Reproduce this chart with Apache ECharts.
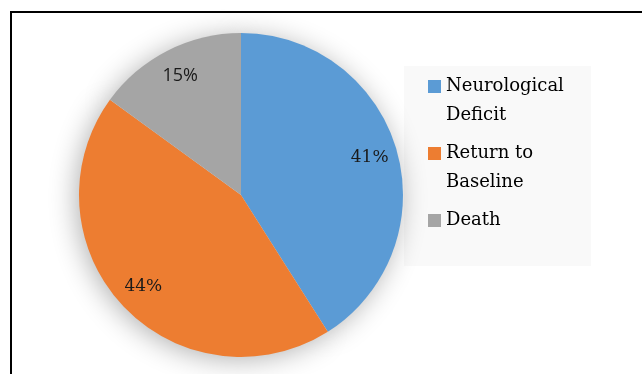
<!DOCTYPE html>
<html>
<head>
<meta charset="utf-8">
<script src="https://cdn.jsdelivr.net/npm/echarts@6/dist/echarts.min.js"></script>
<style>
    html, body { margin: 0; padding: 0; background: #fff; }
    #chart { width: 642px; height: 374px; }
</style>
</head>
<body>
<div id="chart"></div>
<script>
var categories = ['Neurological\nDeficit', 'Return to\nBaseline', 'Death'];
var percents = [41, 44, 15];
var colors = ['#5B9BD5', '#ED7D31', '#A5A5A5'];

var serif = '"DejaVu Serif", "Liberation Serif", serif';

var chart = echarts.init(document.getElementById('chart'));

var pieData = [];
for (var i = 0; i < categories.length; i++) {
    pieData.push({
        name: categories[i],
        value: percents[i],
        itemStyle: { color: colors[i] },
        // 15% label is in a sans font in the original
        label: i === 2 ? { fontFamily: '"Open Sans", "DejaVu Sans", sans-serif', fontSize: 18 } : {}
    });
}

var option = {
    backgroundColor: '#ffffff',
    animation: false,
    legend: {
        orient: 'vertical',
        left: 428,
        top: 43,
        padding: 0,
        itemWidth: 13,
        itemHeight: 13,
        itemGap: -20,
        icon: 'rect',
        data: categories,
        // blank line above (and below for one-liners) so the icon lines up with the first line
        formatter: function (name) {
            return name.indexOf('\n') < 0 ? ' \n' + name + '\n ' : ' \n' + name;
        },
        textStyle: {
            fontFamily: serif,
            fontSize: 18,
            lineHeight: 29,
            color: '#000'
        }
    },
    graphic: [
        { type: 'rect', z: 0, shape: { x: 404, y: 66, width: 187, height: 200 }, style: { fill: '#f9f9f9' } },
        { type: 'line', shape: { x1: 10, y1: 12, x2: 642, y2: 12 }, style: { stroke: '#000', lineWidth: 2 } },
        { type: 'line', shape: { x1: 11, y1: 11, x2: 11, y2: 374 }, style: { stroke: '#000', lineWidth: 2 } }
    ],
    series: [
        {
            // the visible slices
            name: 'outcome',
            type: 'pie',
            z: 3,
            center: [241, 195],
            radius: [0, 162],
            startAngle: 90,
            clockwise: true,
            silent: true,
            data: pieData,
            label: { show: false },
            labelLine: { show: false }
        },
        {
            // transparent ring just to place the % labels further out
            name: 'labels',
            type: 'pie',
            z: 4,
            center: [241, 195],
            radius: [100, 162],
            startAngle: 90,
            clockwise: true,
            silent: true,
            data: pieData.map(function (d) {
                return { name: d.name, value: d.value, label: d.label, itemStyle: { color: 'rgba(0,0,0,0)' } };
            }),
            label: {
                show: true,
                position: 'inside',
                formatter: '{c}%',
                fontFamily: serif,
                fontSize: 17,
                color: '#1a1a1a'
            },
            labelLine: { show: false }
        },
        {
            // soft shadow under the pie
            name: 'shadow',
            type: 'pie',
            z: 1,
            center: [241, 195],
            radius: [0, 161],
            startAngle: 90,
            silent: true,
            data: pieData.map(function (d) { return { name: d.name, value: d.value }; }),
            itemStyle: {
                color: '#ffffff',
                shadowBlur: 28,
                shadowOffsetX: -3,
                shadowOffsetY: 3,
                shadowColor: 'rgba(0,0,0,0.32)'
            },
            label: { show: false },
            labelLine: { show: false }
        }
    ]
};
chart.setOption(option);
</script>
</body>
</html>
